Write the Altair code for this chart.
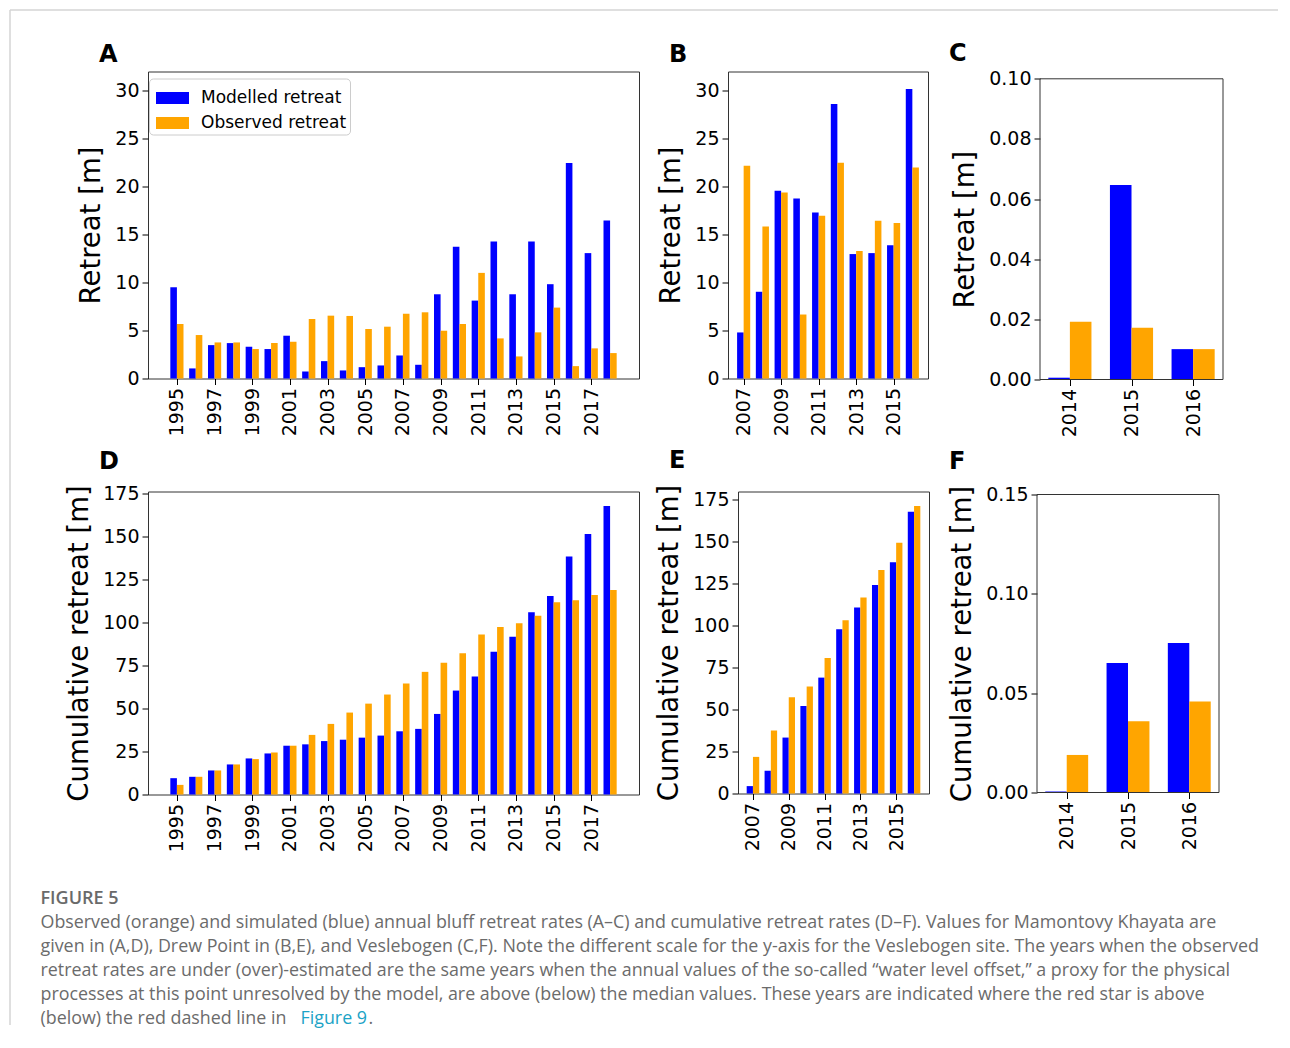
import altair as alt
import pandas as pd

# ---------------- data ----------------
YEARS_MK = list(range(1995, 2019))
MOD_MK = [9.51, 1.05, 3.48, 3.69, 3.31, 3.07, 4.46, 0.73, 1.81, 0.84, 1.18, 1.36,
          2.40, 1.43, 8.78, 13.73, 8.12, 14.29, 8.78, 14.29, 9.83, 22.47, 13.07, 16.48]
OBS_MK = [5.68, 4.53, 3.76, 3.76, 3.07, 3.69, 3.83, 6.20, 6.55, 6.52, 5.16, 5.40,
          6.76, 6.90, 4.98, 5.68, 11.01, 4.18, 2.30, 4.81, 7.39, 1.29, 3.14, 2.65]
CUM_MOD_MK = [9.5, 10.3, 14.0, 17.5, 21.0, 23.9, 28.4, 29.2, 31.1, 31.9, 33.1, 34.3,
              36.8, 38.2, 46.9, 60.5, 68.7, 83.1, 91.9, 106.1, 115.6, 138.6, 151.6, 168.0]
CUM_OBS_MK = [5.6, 10.3, 14.0, 17.5, 20.6, 24.5, 28.4, 34.7, 41.1, 47.7, 52.9, 58.2,
              64.6, 71.4, 76.7, 82.3, 93.1, 97.5, 99.7, 104.1, 111.9, 113.1, 116.2, 119.1]

YEARS_DP = list(range(2007, 2017))
MOD_DP = [4.8, 9.04, 19.57, 18.77, 17.31, 28.6, 12.97, 13.07, 13.9, 30.17]
OBS_DP = [22.18, 15.85, 19.4, 6.67, 16.96, 22.5, 13.3, 16.44, 16.2, 22.0]
CUM_MOD_DP = [4.4, 13.6, 33.3, 52.1, 69.0, 97.8, 110.8, 124.1, 137.7, 167.8]
CUM_OBS_DP = [21.8, 37.5, 57.3, 63.7, 80.6, 103.2, 116.7, 133.1, 149.3, 171.2]

YEARS_VB = [2014, 2015, 2016]
MOD_VB = [0.0006, 0.0647, 0.0101]
OBS_VB = [0.0192, 0.0172, 0.0101]
CUM_MOD_VB = [0.0005, 0.0652, 0.0752]
CUM_OBS_VB = [0.0189, 0.0359, 0.0458]

SERIES = ["Modelled retreat", "Observed retreat"]
COLORS = ["#0000FF", "#FFA500"]
BAR_W = 0.35

TICKS_MK = list(range(1995, 2018, 2))
TICKS_DP = list(range(2007, 2016, 2))
TICKS_VB = [2014, 2015, 2016]

CAPTION_HEAD = "FIGURE 5"
CAPTION_LINES = [
    "Observed (orange) and simulated (blue) annual bluff retreat rates (A\u2013C) and cumulative retreat rates (D\u2013F). Values for Mamontovy Khayata are",
    "given in (A,D), Drew Point in (B,E), and Veslebogen (C,F). Note the different scale for the y-axis for the Veslebogen site. The years when the observed",
    "retreat rates are under (over)-estimated are the same years when the annual values of the so-called \u201cwater level offset,\u201d a proxy for the physical",
    "processes at this point unresolved by the model, are above (below) the median values. These years are indicated where the red star is above",
    "(below) the red dashed line in ",
]
CAPTION_LINK = "Figure 9"

FONT = "DejaVu Sans"
CAP_FONT = "Open Sans"
CAP_SIZE = 17.85
CAP_X = -107.5    # caption left edge relative to the first column's plot origin
ORIGIN_X = 146    # page x of the first column's plot origin
FRAME = "#333333"
BORDER = "#d4d4d4"


def auto_dom(years):
    lo, hi = min(years) - BAR_W, max(years) + BAR_W
    m = 0.05 * (hi - lo)
    return [lo - m, hi + m]


def panel(years, mod, obs, ydom, yticks, yfmt, ytitle, xticks, w, h,
          letter, title_dx, title_offset, legend=False, top_gap=0.0):
    rows = []
    for yr, m, o in zip(years, mod, obs):
        rows.append({"series": SERIES[0], "value": m, "base": 0.0, "x0": yr - BAR_W, "x1": yr})
        rows.append({"series": SERIES[1], "value": o, "base": 0.0, "x0": yr, "x1": yr + BAR_W})
    df = pd.DataFrame(rows)
    if legend:
        leg = alt.Legend(
            orient="none", legendX=1, legendY=7, title=None, fillColor="white",
            strokeColor="#cccccc", cornerRadius=4, padding=3, rowPadding=0,
            symbolOffset=4,
            labelFont=FONT, labelFontSize=17, labelColor="black", labelOffset=12,
            symbolType="M-1,-0.364L1,-0.364L1,0.364L-1,0.364Z", symbolSize=1089,
            symbolStrokeWidth=0, symbolOpacity=1, labelLimit=300,
        )
    else:
        leg = None
    yscale = alt.Scale(domain=ydom, nice=False, zero=True)
    if top_gap > 0:
        yscale = alt.Scale(domain=ydom, nice=False, zero=True, range=[h, top_gap])
    bars = alt.Chart(df).mark_bar(cornerRadius=0).encode(
        x=alt.X("x0:Q", scale=alt.Scale(domain=auto_dom(years), nice=False, zero=False),
                axis=alt.Axis(values=xticks, format="d", labelAngle=270, title=None,
                              labelOverlap=False, labelFlush=False)),
        x2="x1:Q",
        y=alt.Y("value:Q", scale=yscale,
                axis=alt.Axis(values=yticks, format=yfmt, title=ytitle)),
        y2="base:Q",
        color=alt.Color("series:N", scale=alt.Scale(domain=SERIES, range=COLORS), legend=leg),
    )
    title = alt.TitleParams(letter, anchor="start", frame="group", dx=title_dx,
                            offset=title_offset, font=FONT, fontSize=24,
                            fontWeight="bold", color="black")
    if top_gap > 0:
        frame = alt.Chart(pd.DataFrame({"k": [0]})).mark_rect(
            filled=False, stroke=FRAME, strokeWidth=1).encode(
            x=alt.value(0), x2=alt.value(w), y=alt.value(top_gap), y2=alt.value(h))
        return alt.layer(bars, frame).properties(
            width=w, height=h, title=title,
            view=alt.ViewBackground(stroke="transparent"))
    return bars.properties(width=w, height=h, title=title,
                           view=alt.ViewBackground(stroke=FRAME, strokeWidth=1))


A = panel(YEARS_MK, MOD_MK, OBS_MK, [0, 32.0], list(range(0, 31, 5)), "d", "Retreat [m]",
          TICKS_MK, 491, 307, "A", -49, 5, legend=True)
B = panel(YEARS_DP, MOD_DP, OBS_DP, [0, 32.0], list(range(0, 31, 5)), "d", "Retreat [m]",
          TICKS_DP, 200, 307, "B", -59, 5)
C = panel(YEARS_VB, MOD_VB, OBS_VB, [0, 0.10], [0, 0.02, 0.04, 0.06, 0.08, 0.10], ".2f",
          "Retreat [m]", TICKS_VB, 183, 308, "C", -91, 4, top_gap=7.3)
D = panel(YEARS_MK, CUM_MOD_MK, CUM_OBS_MK, [0, 176.4], list(range(0, 176, 25)), "d",
          "Cumulative retreat [m]", TICKS_MK, 491, 303, "D", -49, 11)
E = panel(YEARS_DP, CUM_MOD_DP, CUM_OBS_DP, [0, 179.8], list(range(0, 176, 25)), "d",
          "Cumulative retreat [m]", TICKS_DP, 191, 302, "E", -69, 11)
F = panel(YEARS_VB, CUM_MOD_VB, CUM_OBS_VB, [0, 0.15], [0, 0.05, 0.10, 0.15], ".2f",
          "Cumulative retreat [m]", TICKS_VB, 182, 301, "F", -88, 11, top_gap=3)

row1 = alt.hconcat(alt.hconcat(A, B, spacing=17).resolve_scale(color="independent"), C,
                   spacing=19).resolve_scale(color="independent")
row2 = alt.hconcat(alt.hconcat(D, E, spacing=15).resolve_scale(color="independent"), F,
                   spacing=18).resolve_scale(color="independent")

# ---------------- caption ----------------
cap_y = alt.Y("i:Q", scale=alt.Scale(domain=[0, 5], range=[0, 120]), axis=None)
head_df = pd.DataFrame({"i": [0], "text": [CAPTION_HEAD]})
lines_df = pd.DataFrame({"i": list(range(1, 6)), "text": CAPTION_LINES})
link_df = pd.DataFrame({"i": [5], "text": [CAPTION_LINK]})
dot_df = pd.DataFrame({"i": [5], "text": ["."]})

head = alt.Chart(head_df).mark_text(align="left", baseline="alphabetic", font=CAP_FONT,
                                    fontSize=18, fontWeight=600, color="#6a6a6a").encode(
    x=alt.value(CAP_X), y=cap_y, text="text:N")
lines = alt.Chart(lines_df).mark_text(align="left", baseline="alphabetic", font=CAP_FONT,
                                      fontSize=CAP_SIZE, color="#6b6b6b").encode(
    x=alt.value(CAP_X), y=cap_y, text="text:N")
link = alt.Chart(link_df).mark_text(align="left", baseline="alphabetic", font=CAP_FONT,
                                    fontSize=CAP_SIZE, color="#1BA3C6").encode(
    x=alt.value(CAP_X + 260), y=cap_y, text="text:N")
dot = alt.Chart(dot_df).mark_text(align="left", baseline="alphabetic", font=CAP_FONT,
                                  fontSize=CAP_SIZE, color="#6b6b6b").encode(
    x=alt.value(CAP_X + 328), y=cap_y, text="text:N")
caption = alt.layer(head, lines, link, dot).properties(
    width=1000, height=124, view=alt.ViewBackground(stroke="transparent"))

# ---------------- figure border (top and left grey lines) ----------------
bdf = pd.DataFrame({"k": [0]})
border_top = alt.Chart(bdf).mark_rule(color=BORDER, strokeWidth=1.5).encode(
    x=alt.value(8 - ORIGIN_X), x2=alt.value(1276 - ORIGIN_X), y=alt.value(0))
border_left = alt.Chart(bdf).mark_rule(color=BORDER, strokeWidth=1.5).encode(
    x=alt.value(8 - ORIGIN_X), y=alt.value(0), y2=alt.value(1015))
border = alt.layer(border_top, border_left).properties(
    width=1, height=1, view=alt.ViewBackground(stroke="transparent"))

figure = alt.vconcat(
    alt.vconcat(row1, row2, spacing=11).resolve_scale(color="independent"),
    caption, spacing=36,
).resolve_scale(color="independent")

chart = alt.vconcat(border, figure, spacing=60.5, bounds="flush").resolve_scale(
    color="independent"
).properties(
    padding={"left": 0, "top": 0, "right": 0, "bottom": 0}
).configure_view(stroke=None).configure_axis(
    labelFont=FONT, labelFontSize=19, labelColor="black", labelPadding=3,
    tickColor="black", tickSize=6, tickWidth=1, domain=False, grid=False,
    titleFont=FONT, titleFontSize=27.5, titleFontWeight="normal", titleColor="black",
    titlePadding=9,
)

chart.save("out.html", embed_options={"renderer": "svg", "actions": False})
